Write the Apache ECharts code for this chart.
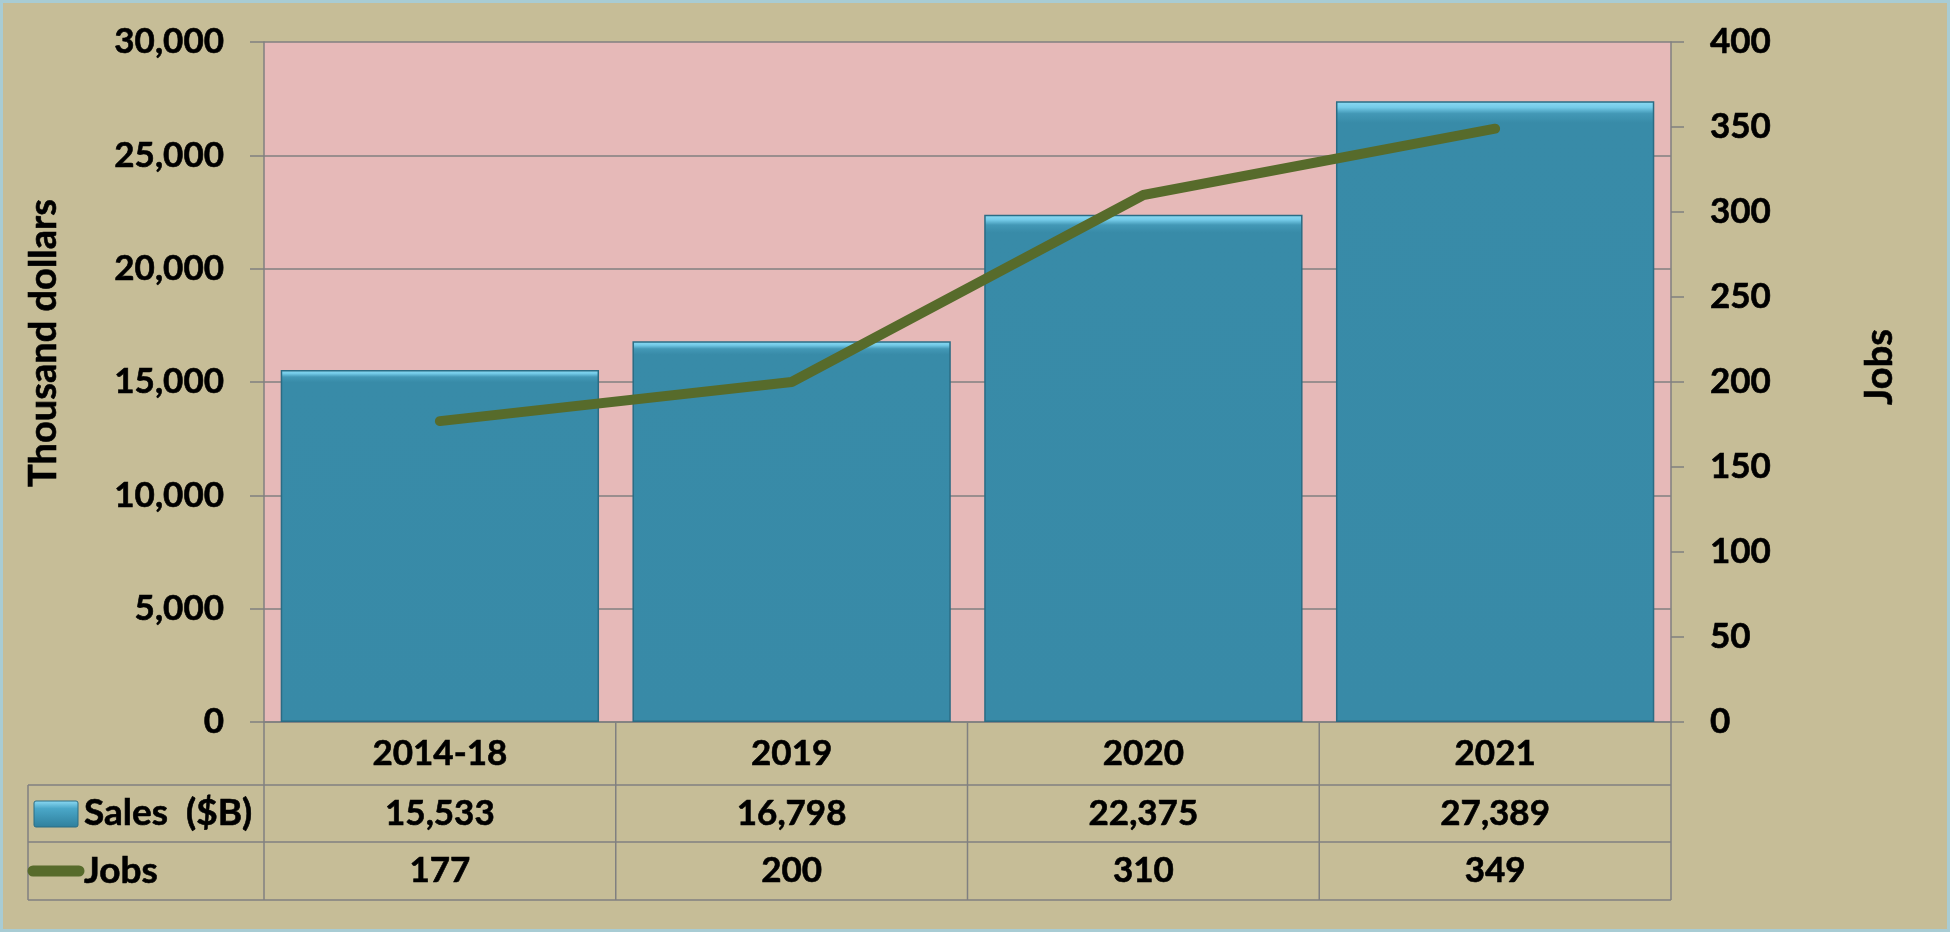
<!DOCTYPE html>
<html>
<head>
<meta charset="utf-8">
<script src="https://cdn.jsdelivr.net/npm/echarts@6/dist/echarts.min.js"></script>
<style>
html,body{margin:0;padding:0;background:#a8ccd4;}
#chart{width:1950px;height:932px;}
</style>
</head>
<body>
<div id="chart"></div>
<script>
var categories = ['2014-18', '2019', '2020', '2021'];
var salesValues = [15533, 16798, 22375, 27389];
var jobsValues = [177, 200, 310, 349];
var leftTicks = [0, 5000, 10000, 15000, 20000, 25000, 30000];
var rightTicks = [0, 50, 100, 150, 200, 250, 300, 350, 400];
var salesLabel = 'Sales  ($B)';
var jobsLabel = 'Jobs';
var leftTitle = 'Thousand dollars';
var rightTitle = 'Jobs';

var FONT = 'Lato, "Open Sans", sans-serif';
var GRID = {left: 264, right: 279, top: 42, bottom: 210};
var W = 1950, H = 932;
var plotL = GRID.left, plotR = W - GRID.right, plotB = H - GRID.bottom;
var rowY = [plotB, 785, 842, 900];
var tableLeft = 28;
var lineCol = '#808080';
var TB = {stroke: '#000', lineWidth: 0.6};

function fmt(v){ return v.toLocaleString('en-US'); }

var chart = echarts.init(document.getElementById('chart'));

var graphics = [];
graphics.push({type:'rect', shape:{x:1.5,y:1.5,width:W-3,height:H-3}, style:{fill:null, stroke:'#a8ccd4', lineWidth:3}, silent:true});
for (var r = 1; r < rowY.length; r++) {
  graphics.push({type:'line', shape:{x1:tableLeft, y1:rowY[r], x2:plotR, y2:rowY[r]}, style:{stroke:lineCol, lineWidth:1.5}, silent:true});
}
graphics.push({type:'line', shape:{x1:tableLeft, y1:rowY[1], x2:tableLeft, y2:rowY[3]}, style:{stroke:lineCol, lineWidth:1.5}, silent:true});
var colW = (plotR - plotL) / categories.length;
for (var c = 0; c <= categories.length; c++) {
  var x = plotL + c * colW;
  graphics.push({type:'line', shape:{x1:x, y1:rowY[0], x2:x, y2:rowY[3]}, style:{stroke:lineCol, lineWidth:1.5}, silent:true});
}
graphics.push({type:'rect', shape:{x:34, y:801, width:44, height:26, r:2},
  style:{fill:new echarts.graphic.LinearGradient(0,0,0,1,[{offset:0,color:'#8fdcf5'},{offset:0.3,color:'#4aa7c8'},{offset:1,color:'#2f7f9c'}]), stroke:'#2a6c84', lineWidth:1}, silent:true});
graphics.push({type:'line', shape:{x1:33, y1:871, x2:79, y2:871}, style:{stroke:'#576b2b', lineWidth:11, lineCap:'round'}, silent:true});
graphics.push({type:'text', x:84, y:(rowY[1]+rowY[2])/2, style:Object.assign({text:salesLabel, font:'bold 37px ' + FONT, fill:'#000', verticalAlign:'middle'}, TB), silent:true});
graphics.push({type:'text', x:84, y:(rowY[2]+rowY[3])/2, style:Object.assign({text:jobsLabel, font:'bold 37px ' + FONT, fill:'#000', verticalAlign:'middle'}, TB), silent:true});
graphics.push({type:'text', x:44, y:343, rotation:Math.PI/2, style:Object.assign({text:leftTitle, font:'bold 38px ' + FONT, fill:'#000', align:'center', verticalAlign:'middle'}, TB), silent:true});
graphics.push({type:'text', x:1880, y:367, rotation:Math.PI/2, style:Object.assign({text:rightTitle, font:'bold 38px ' + FONT, fill:'#000', align:'center', verticalAlign:'middle'}, TB), silent:true});

var richBase = {fontFamily: FONT, fontWeight: 'bold', fontSize: 35, color: '#000', textBorderColor: '#000', textBorderWidth: 0.6};

var option = {
  backgroundColor: '#c6bd97',
  animation: false,
  grid: {left: GRID.left, right: GRID.right, top: GRID.top, bottom: GRID.bottom, show: true, backgroundColor: '#e6b9b8', borderWidth: 0, containLabel: false},
  xAxis: {
    type: 'category',
    data: categories,
    axisLine: {show: true, lineStyle: {color: lineCol, width: 1.5}},
    axisTick: {show: false},
    splitLine: {show: false},
    axisLabel: {
      margin: 0,
      interval: 0,
      formatter: function (value, idx) {
        return '{a|' + value + '}\n{b|' + fmt(salesValues[idx]) + '}\n{c|' + fmt(jobsValues[idx]) + '}';
      },
      rich: {
        a: Object.assign({lineHeight: 63}, richBase),
        b: Object.assign({lineHeight: 57}, richBase),
        c: Object.assign({lineHeight: 58}, richBase)
      }
    }
  },
  yAxis: [
    {
      type: 'value', min: leftTicks[0], max: leftTicks[leftTicks.length-1], interval: leftTicks[1]-leftTicks[0],
      position: 'left',
      axisLine: {show: true, lineStyle: {color: lineCol, width: 1.5}},
      axisTick: {show: true, length: 14, inside: false, lineStyle: {color: lineCol, width: 1.5}},
      splitLine: {show: true, lineStyle: {color: lineCol, width: 1.5}},
      axisLabel: {margin: 40, fontFamily: FONT, fontWeight: 'bold', fontSize: 35, color: '#000', textBorderColor: '#000', textBorderWidth: 0.6, formatter: function(v){ return fmt(v); }}
    },
    {
      type: 'value', min: rightTicks[0], max: rightTicks[rightTicks.length-1], interval: rightTicks[1]-rightTicks[0],
      position: 'right',
      axisLine: {show: true, lineStyle: {color: lineCol, width: 1.5}},
      axisTick: {show: true, length: 13, inside: false, lineStyle: {color: lineCol, width: 1.5}},
      splitLine: {show: false},
      axisLabel: {margin: 39, fontFamily: FONT, fontWeight: 'bold', fontSize: 35, color: '#000', textBorderColor: '#000', textBorderWidth: 0.6}
    }
  ],
  series: [
    {
      name: salesLabel, type: 'bar', yAxisIndex: 0, data: salesValues,
      barCategoryGap: '9.5%',
      itemStyle: {
        color: new echarts.graphic.LinearGradient(0,0,0,1,[
          {offset:0, color:'#8fdcf5'},
          {offset:0.01, color:'#74cbe8'},
          {offset:0.02, color:'#4398b6'},
          {offset:0.035, color:'#388ba8'},
          {offset:1, color:'#388aa7'}
        ]),
        borderColor: '#2a6c84', borderWidth: 1.5
      },
      z: 2
    },
    {
      name: jobsLabel, type: 'line', yAxisIndex: 1, data: jobsValues,
      symbol: 'none',
      lineStyle: {color: '#576b2b', width: 10, cap: 'round', join: 'round'},
      z: 3
    }
  ],
  graphic: graphics
};
chart.setOption(option);
</script>
</body>
</html>
